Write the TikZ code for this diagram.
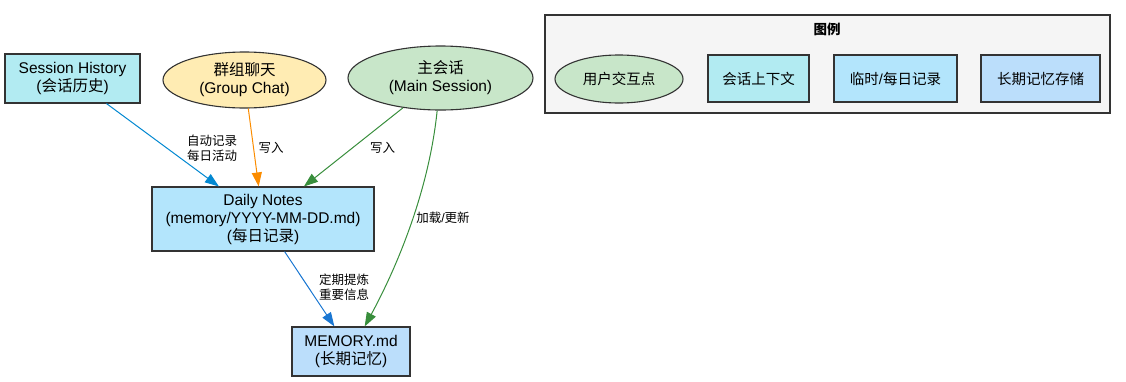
\documentclass[tikz,border=0pt]{standalone}
\usepackage{fontspec}
\setmainfont{Liberation Sans}
\newfontfamily\cjk{Noto Sans CJK SC}
\newcommand{\zh}[1]{{\cjk #1}}
\usetikzlibrary{arrows.meta,shapes.geometric}
\definecolor{histcyan}{HTML}{B2EBF2}
\definecolor{chatyellow}{HTML}{FFECB3}
\definecolor{mainmint}{HTML}{C8E6C9}
\definecolor{dailyblue}{HTML}{B3E5FC}
\definecolor{memblue}{HTML}{BBDEFB}
\definecolor{legendbg}{HTML}{F5F5F5}
\definecolor{bordergray}{HTML}{333333}
\definecolor{autoblue}{HTML}{0288D1}
\definecolor{writeorange}{HTML}{FB8C00}
\definecolor{writegreen}{HTML}{388E3C}
\definecolor{distilblue}{HTML}{1976D2}

\begin{document}
\begin{tikzpicture}[x=1pt,y=-1pt,
    rbox/.style={draw=bordergray, line width=1.1pt, inner sep=0pt, align=center, font=\fontsize{15.5}{18}\selectfont},
    oval/.style={rbox, ellipse},
    legitem/.style={rbox, font=\fontsize{14.5}{17}\selectfont},
    lbl/.style={align=center, inner sep=0pt, font=\fontsize{12.5}{15}\selectfont},
    arr/.style={line width=1pt, -{Triangle[length=14pt,width=10pt]}}]
  \useasboundingbox (0,0) rectangle (1126,381);
  % main nodes
  \node[rbox, fill=histcyan, minimum width=135, minimum height=49] (hist) at (72.5,78.5) {Session History\\(\zh{会话历史})};
  \node[oval, fill=chatyellow, minimum width=163, minimum height=56] (chat) at (244.5,80) {\zh{群组聊天}\\(Group Chat)};
  \node[oval, fill=mainmint, minimum width=185, minimum height=64] (main) at (440.5,78) {\zh{主会话}\\(Main Session)};
  \node[rbox, fill=dailyblue, minimum width=222, minimum height=64] (daily) at (263,219) {Daily Notes\\(memory/YYYY-MM-DD.md)\\(\zh{每日记录})};
  \node[rbox, fill=memblue, minimum width=118, minimum height=49] (mem) at (351,351.5) {MEMORY.md\\(\zh{长期记忆})};
  % flows
  \draw[arr, autoblue] (hist) -- (daily);
  \draw[arr, writeorange] (chat) -- (daily);
  \draw[arr, writegreen] (main) -- (daily);
  \draw[arr, writegreen] (main) .. controls (428,200) and (390,280) .. (mem);
  \draw[arr, distilblue] (daily) -- (mem);
  \node[lbl] (autolbl) at (212,148) {\zh{自动记录}\\\zh{每日活动}};
  \node[lbl] (chatlbl) at (271,148) {\zh{写入}};
  \node[lbl] (mainlbl) at (382.5,148) {\zh{写入}};
  \node[lbl] (loadlbl) at (443,218) {\zh{加载}/\zh{更新}};
  \node[lbl] (distlbl) at (344,287) {\zh{定期提炼}\\\zh{重要信息}};
  % legend
  \node[draw=bordergray, line width=1.1pt, fill=legendbg, minimum width=565, minimum height=98, inner sep=0pt] (legend) at (827.5,64) {};
  \node[font=\bfseries\fontsize{13.5}{16}\selectfont, inner sep=0pt] (legtitle) at (827,29) {\zh{图例}};
  \node[legitem, ellipse, fill=mainmint, minimum width=128, minimum height=48] (legoval) at (619,79) {\zh{用户交互点}};
  \node[legitem, fill=histcyan, minimum width=101, minimum height=47] (legctx) at (758.5,78.5) {\zh{会话上下文}};
  \node[legitem, fill=dailyblue, minimum width=123, minimum height=47] (legdaily) at (895.5,78.5) {\zh{临时}/\zh{每日记录}};
  \node[legitem, fill=memblue, minimum width=119, minimum height=47] (legmem) at (1040.5,78.5) {\zh{长期记忆存储}};
\end{tikzpicture}
\end{document}
